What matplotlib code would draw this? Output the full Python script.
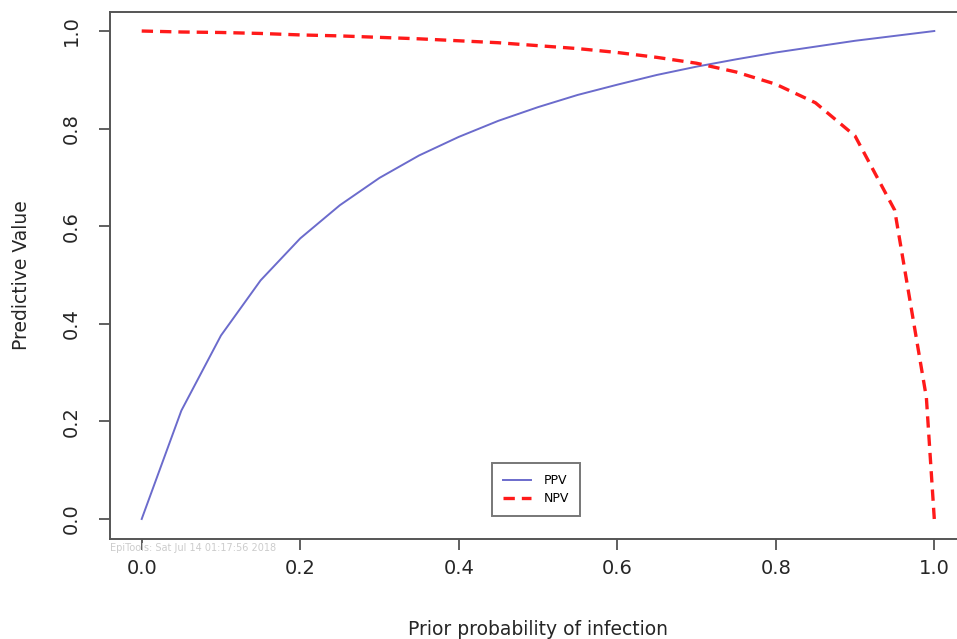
"""
Predictive value vs prior probability (PPV / NPV)
"""
import matplotlib
matplotlib.use("Agg")
import matplotlib.pyplot as plt

# DATA

prior = [0.0, 0.05, 0.10, 0.15, 0.20, 0.25, 0.30, 0.35, 0.40, 0.45, 0.50,
         0.55, 0.60, 0.65, 0.70, 0.75, 0.80, 0.85, 0.90, 0.95, 0.99, 1.0]
ppv = [0.0, 0.222, 0.376, 0.489, 0.575, 0.643, 0.699, 0.745, 0.783, 0.816, 0.844,
       0.869, 0.890, 0.910, 0.927, 0.942, 0.956, 0.968, 0.980, 0.990, 0.998, 1.0]
npv = [1.0, 0.998, 0.997, 0.995, 0.992, 0.990, 0.987, 0.984, 0.980, 0.976, 0.970,
       0.964, 0.956, 0.946, 0.934, 0.916, 0.891, 0.853, 0.785, 0.633, 0.249, 0.0]

xticks = [0.0, 0.2, 0.4, 0.6, 0.8, 1.0]
yticks = [0.0, 0.2, 0.4, 0.6, 0.8, 1.0]
stamp = "EpiTools: Sat Jul 14 01:17:56 2018"

# PLOT

fig = plt.figure(figsize=(9.57, 6.39), dpi=100)
ax = fig.add_axes([110 / 957, 100.5 / 639, 856 / 957, 527 / 639])

ax.plot(prior, ppv, color="#6b6bcc", lw=1.4, label="PPV")
ax.plot(prior, npv, color="#ff1a1a", lw=2.4, dashes=(3.4, 2.1), label="NPV")

ax.set_xlim(-0.04, 1.04)
ax.set_ylim(-0.04, 1.04)
ax.set_xticks(xticks)
ax.set_yticks(yticks)
ax.set_xticklabels([f"{t:.1f}" for t in xticks])
ax.set_yticklabels([f"{t:.1f}" for t in yticks], rotation=90, va="center")
ax.tick_params(direction="out", length=8, width=1.2, colors="#444444",
               labelcolor="#262626", labelsize=14)
ax.tick_params(axis="x", pad=7)
ax.tick_params(axis="y", pad=13)
for s in ax.spines.values():
    s.set_color("#555555")
    s.set_linewidth(1.4)

ax.set_xlabel("Prior probability of infection", fontsize=13.5, color="#262626", labelpad=30)
ax.set_ylabel("Predictive Value", fontsize=13.5, color="#262626", labelpad=22)

leg = ax.legend(loc="upper left", bbox_to_anchor=((486 - 110) / 856, (538.5 - 457) / 527),
                fontsize=9, frameon=True, fancybox=False, handlelength=2.2,
                borderpad=0.9, labelspacing=0.35, handletextpad=1.0)
leg.get_frame().set_edgecolor("#555555")
leg.get_frame().set_linewidth(1.4)

fig.text(110 / 957, 1 - 548 / 639, stamp, fontsize=7, color="#cccccc", va="center")

fig.savefig("out.png", dpi=100)
